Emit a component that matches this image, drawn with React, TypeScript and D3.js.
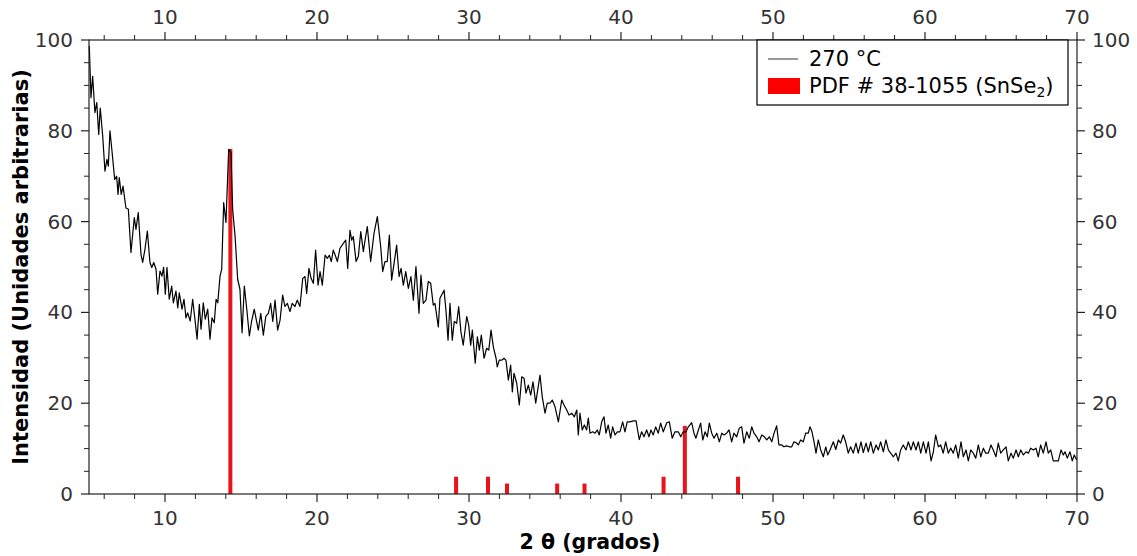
import React from "react";
import * as d3 from "d3";

const twoTheta = [
  5.02,5.13,5.24,5.39,5.51,5.64,5.74,5.90,6.05,6.18,6.27,6.38,6.51,6.69,6.82,6.91,6.99,7.12,7.24,7.43,
  7.59,7.76,7.98,8.09,8.24,8.42,8.53,8.68,8.84,9.01,9.13,9.26,9.41,9.52,9.67,9.80,9.91,10.02,10.13,10.28,
  10.44,10.55,10.72,10.84,10.94,11.12,11.25,11.38,11.49,11.66,11.82,11.97,12.11,12.26,12.37,12.52,12.65,12.81,12.96,13.09,
  13.24,13.36,13.47,13.62,13.73,13.86,14.01,14.19,14.34,14.45,14.61,14.78,14.93,15.07,15.22,15.38,15.55,15.70,15.87,
  16.14,16.30,16.47,16.63,16.80,16.95,17.09,17.24,17.41,17.57,17.74,17.89,18.05,18.22,18.37,18.55,18.70,18.88,19.06,19.21,
  19.32,19.47,19.61,19.76,19.91,20.07,20.20,20.35,20.53,20.68,20.81,20.94,21.07,21.20,21.34,21.51,21.73,21.89,22.02,22.17,
  22.28,22.39,22.57,22.72,22.88,23.05,23.16,23.31,23.53,23.75,23.97,24.19,24.32,24.47,24.62,24.76,24.91,25.07,25.24,25.40,
  25.53,25.68,25.84,26.01,26.18,26.34,26.51,26.71,26.84,26.99,27.17,27.32,27.48,27.65,27.76,27.98,
  28.09,28.36,28.49,28.62,28.75,28.90,29.03,29.19,29.32,29.47,29.62,29.85,29.98,30.11,30.22,30.41,30.55,30.68,30.81,30.99,
  31.16,31.30,31.45,31.60,31.78,31.86,31.99,32.17,32.30,32.43,32.59,32.74,32.85,32.96,33.14,33.31,33.47,33.62,33.75,33.90,
  34.06,34.21,34.39,34.67,34.82,35.00,35.15,35.33,35.48,35.66,35.88,36.10,36.25,36.43,36.58,36.76,36.93,37.09,37.19,37.30,
  37.45,37.59,37.74,37.85,37.96,38.14,38.29,38.44,38.57,38.73,38.88,39.01,39.16,39.32,39.45,39.61,39.76,39.93,40.11,40.26,
  40.41,40.59,40.81,40.99,41.20,41.36,41.51,41.69,41.84,41.97,42.12,42.28,42.45,42.61,42.78,43.01,43.18,43.37,43.55,43.77,
  43.93,44.10,44.28,44.43,44.65,44.80,44.93,45.09,45.24,45.38,45.53,45.68,45.81,45.97,46.12,46.30,46.47,46.63,46.78,46.95,
  47.11,47.28,47.43,47.61,47.78,47.94,48.09,48.27,48.44,48.60,48.75,48.93,49.08,49.26,49.43,49.59,49.76,49.92,50.07,50.24,
  50.39,50.57,50.72,50.90,51.07,51.23,51.38,51.56,51.66,51.82,51.99,52.15,52.32,52.43,52.55,52.70,52.83,52.98,53.14,53.31,
  53.47,53.60,53.75,53.97,54.13,54.30,54.45,54.62,54.78,54.95,55.11,55.28,55.46,55.61,55.79,55.94,56.12,56.27,56.43,56.60,
  56.78,56.93,57.08,57.26,57.43,57.59,57.74,57.92,58.09,58.24,58.40,58.57,58.75,58.90,59.08,59.23,59.41,59.56,59.72,59.89,
  60.07,60.22,60.40,60.55,60.70,60.88,61.03,61.20,61.36,61.53,61.69,61.86,62.02,62.19,62.37,62.52,62.70,62.85,63.01,63.18,
  63.34,63.51,63.67,63.84,63.99,64.17,64.34,64.49,64.67,64.82,64.98,65.15,65.33,65.48,65.66,65.81,65.99,66.14,66.30,66.47,
  66.65,66.80,66.95,67.13,67.30,67.45,67.61,67.78,67.96,68.11,68.27,68.44,68.77,68.95,69.10,69.21,69.36,69.54,69.69,69.82,69.98
];

const intensity = [
  98.7,87.3,92,84,86.2,79.2,85,78.9,71.1,73.7,72.2,80,75.6,69.3,70,66,69.7,66,67.8,63,
  62.7,53.2,60.9,58.3,62,52.8,51,53.9,57.9,51,49.9,51,49.5,44,49.1,48,49.9,44,49.9,42.9,
  45.8,42.1,44.7,41,44.3,40.7,42.9,38.8,39.9,38.1,42.9,38.5,34.1,41.8,36.3,42.1,38.5,40.7,34.1,38.8,
  37.7,42.9,42.1,48,49.5,64.2,59.8,75.9,75.2,62.7,56.8,47.3,45.1,35.5,45.8,40.7,34.8,38.1,40.7,
  36.1,39.8,35,39.1,39.8,42,38,42.7,36.1,38.3,43.8,41.3,42,40.2,42,41.3,42.7,41.3,47.5,47.9,
  44.2,49.7,47.5,46.4,53.7,46,49,46,52.6,51.9,52.6,51.2,53.7,52.6,51.2,54.1,55.2,55.9,49.7,58.1,
  55.9,56.7,51.2,52.3,57.8,53.4,55.9,58.9,51.2,57.4,61.1,54.5,49,51.2,51.2,57,47.1,50.8,54.8,47.9,
  49.7,46,49,45.3,47.9,42.7,50.1,39.8,48.2,42,42.7,46.8,46.4,41.6,42,36.8,
  43.1,44.9,40.2,33.9,42,33.9,38,37.6,41.3,35.7,32.8,39.1,37.2,32.8,36.1,28.8,34.6,31.7,35,29.9,
  32.1,31.7,36.1,32.4,29.9,28,29.5,29.5,29.9,29.5,25.1,28.4,22.5,26.6,24.4,19.6,25.8,25.5,22.2,24,
  21.8,24.7,20,26.2,21.4,17.8,20,20,20.7,19.2,15.9,20.7,19.6,18.5,17.4,17.8,17,18.5,13,17.8,
  14.1,15.2,14.1,16.7,13.4,13.7,13.4,14.1,13,15.9,17,13.4,15.2,12.3,14.8,13,13.7,13.7,15.9,13.7,
  15.9,15.9,16.1,16.1,12,13.7,12.6,14.1,12.6,14.1,13,14.8,13.4,15.6,13.7,15.7,15.9,12.3,13.7,13.7,
  12.6,13.7,13.7,14.8,15.7,13.4,12.3,14.1,15.6,11.9,13.7,12.6,15.6,13.4,12.3,13.4,11.5,13.4,13,13.4,
  14.1,11.5,13.4,12.6,14.5,14.8,11.2,13.7,12.3,14.8,13.4,12.6,11.5,13,12.6,11.9,12.6,11.5,13.4,15,
  10.8,10.8,10.4,10.6,10.4,10.4,11.5,11.2,10.8,11.9,11.5,13.4,13.4,14.8,13.9,11.5,9,11.9,9.7,8.2,
  10.4,8.6,9.7,11.5,9.8,11.9,11.2,13,11.5,9,10.4,9,11.2,9,11.5,9.1,11.2,9.3,11.5,9,
  10.8,9.7,11.5,9.3,11.9,9.7,9,8.2,9,7.3,9.7,10.8,9.7,11.5,9.7,11.5,9.7,11.5,9,11.5,
  9,11.5,7.3,9.3,13,10.4,10.8,9,11.5,9,10.1,9,10.8,7.9,11.5,8.2,9.7,7.3,9.7,9,
  7.9,10.8,8.2,10.1,9,9,10.8,9.7,8.2,11.2,9,9.7,10.4,7.3,9,7.9,9.7,8.2,9.7,8.6,
  9.3,9,10.1,9.7,10.1,8.2,10.8,9,11.5,9,9.7,7.3,7.3,9.7,8.6,9.3,7.9,9.3,7.3,8.6,7.5
];

const refPositions = [14.3, 29.15, 31.25, 32.5, 35.8, 37.6, 42.8, 44.2, 47.7];
const refHeights = [76, 3.8, 3.8, 2.3, 2.3, 2.3, 3.8, 15, 3.8];

const xMajorTicks = [10, 20, 30, 40, 50, 60, 70];
const yMajorTicks = [0, 20, 40, 60, 80, 100];

const seriesLabel = "270 °C";
const refLabel = "PDF # 38-1055 (SnSe";

export default function App() {
  const W = 1137, H = 556;
  const left = 89, right = 1077, top = 40, bottom = 494;
  const x = d3.scaleLinear().domain([5, 70]).range([left, right]);
  const y = d3.scaleLinear().domain([0, 100]).range([bottom, top]);
  const pts = twoTheta.map((t, i) => [t, intensity[i]] as [number, number]);
  const line = d3.line<[number, number]>().x(d => x(d[0])).y(d => y(d[1]));
  const xMinor = d3.range(6, 70.01, 2).filter(v => v % 10 !== 0);
  const yMinor = d3.range(5, 100, 5).filter(v => v % 20 !== 0);
  const font = "DejaVu Sans, sans-serif";
  const axisColor = "#222";
  const labelColor = "#333";
  const fs = 20;
  const lfs = 21;
  return (
    <svg width={W} height={H} style={{ position: "absolute", left: 0, top: 0, background: "#fff" }} fontFamily={font}>
      <rect x={0} y={0} width={W} height={H} fill="#fff" />
      {refPositions.map((p, i) => (
        <rect key={"r" + i} x={x(p) - 2} y={y(refHeights[i])} width={4} height={y(0) - y(refHeights[i])} fill="#e8131b" />
      ))}
      <path d={line(pts) || ""} fill="none" stroke="#000" strokeWidth={1.2} strokeLinejoin="round" />
      <rect x={left} y={top} width={right - left} height={bottom - top} fill="none" stroke={axisColor} strokeWidth={1.2} />
      {xMajorTicks.map(v => (
        <g key={"xm" + v}>
          <line x1={x(v)} x2={x(v)} y1={bottom} y2={bottom + 8} stroke={axisColor} strokeWidth={1.2} />
          <line x1={x(v)} x2={x(v)} y1={top} y2={top - 8} stroke={axisColor} strokeWidth={1.2} />
          <text x={x(v)} y={bottom + 31} textAnchor="middle" fontSize={fs} fill={labelColor}>{v}</text>
          <text x={x(v)} y={top - 16} textAnchor="middle" fontSize={fs} fill={labelColor}>{v}</text>
        </g>
      ))}
      {xMinor.map(v => (
        <g key={"xn" + v}>
          <line x1={x(v)} x2={x(v)} y1={bottom} y2={bottom + 5} stroke={axisColor} strokeWidth={1} />
          <line x1={x(v)} x2={x(v)} y1={top} y2={top - 5} stroke={axisColor} strokeWidth={1} />
        </g>
      ))}
      {yMajorTicks.map(v => (
        <g key={"ym" + v}>
          <line x1={left} x2={left - 8} y1={y(v)} y2={y(v)} stroke={axisColor} strokeWidth={1.2} />
          <line x1={right} x2={right + 8} y1={y(v)} y2={y(v)} stroke={axisColor} strokeWidth={1.2} />
          <text x={left - 16} y={y(v) + 7} textAnchor="end" fontSize={fs} fill={labelColor}>{v}</text>
          <text x={right + 15} y={y(v) + 7} textAnchor="start" fontSize={fs} fill={labelColor}>{v}</text>
        </g>
      ))}
      {yMinor.map(v => (
        <g key={"yn" + v}>
          <line x1={left} x2={left - 5} y1={y(v)} y2={y(v)} stroke={axisColor} strokeWidth={1} />
          <line x1={right} x2={right + 5} y1={y(v)} y2={y(v)} stroke={axisColor} strokeWidth={1} />
        </g>
      ))}
      <text x={590} y={549} textAnchor="middle" fontSize={20.5} fontWeight="bold" fill="#000">2 θ (grados)</text>
      <text transform={`translate(28,${(top + bottom) / 2}) rotate(-90)`} textAnchor="middle" fontSize={21} fontWeight="bold" fill="#000">Intensidad (Unidades arbitrarias)</text>
      <rect x={757} y={top} width={311} height={65} fill="#fff" stroke="#000" strokeWidth={1.2} />
      <line x1={768} x2={798} y1={59} y2={59} stroke="#555" strokeWidth={1.2} />
      <text x={809} y={66} fontSize={lfs} fill="#000">{seriesLabel}</text>
      <rect x={768} y={78} width={32} height={16} fill="#f00" />
      <text x={809} y={93} fontSize={lfs} fill="#000">{refLabel}<tspan fontSize={14} dy={4}>2</tspan><tspan dy={-4}>)</tspan></text>
    </svg>
  );
}
